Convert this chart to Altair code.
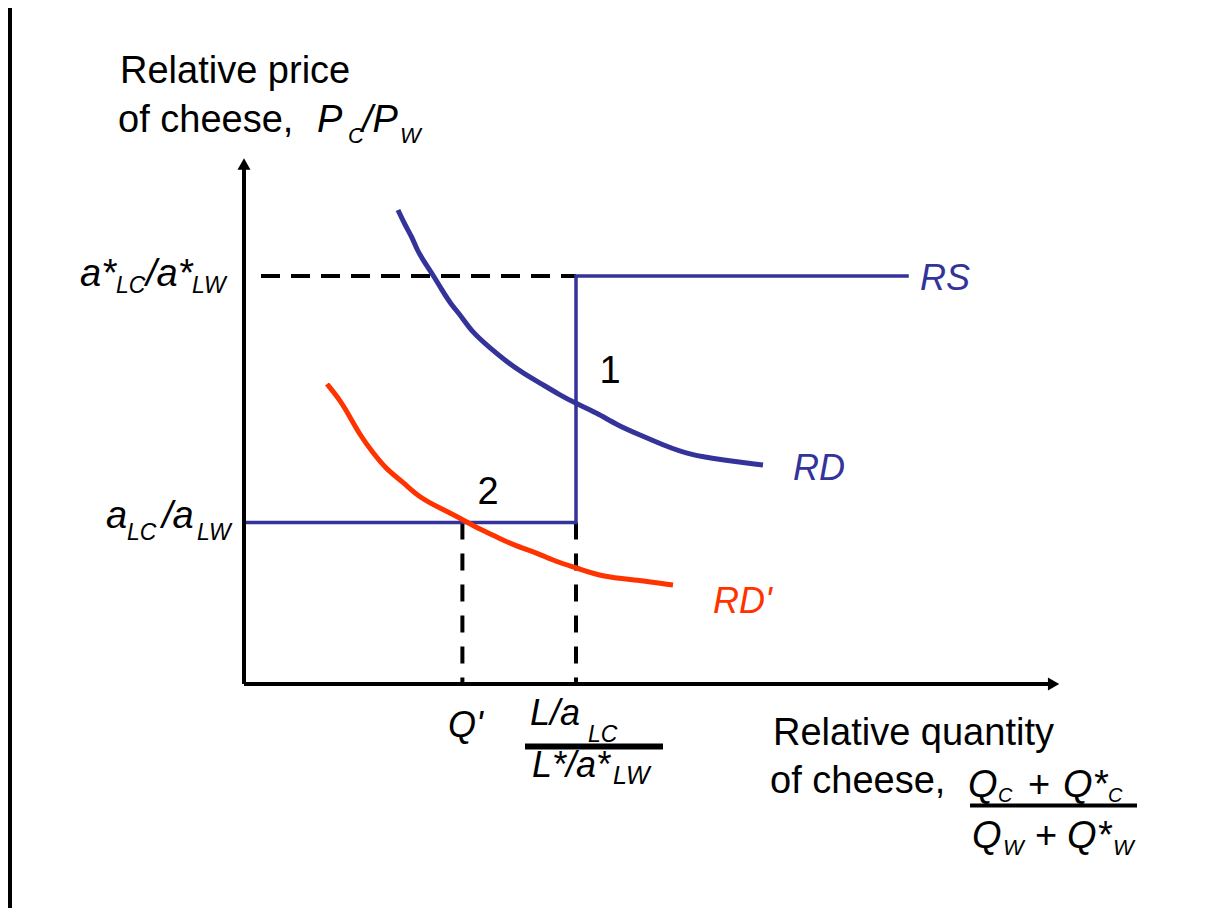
import altair as alt
import pandas as pd

BLUE = "#333399"
RED = "#FF3300"
FONT = "Liberation Sans"

# ---- data (data units: x = relative quantity, y = relative price) ----
rd_x = [1.925, 2.0125, 2.10, 2.1625, 2.2625, 2.3625, 2.475, 2.575, 2.725, 2.85, 3.075,
        3.2875, 3.4875, 3.70, 3.95, 4.1375, 4.4125, 4.6625, 4.95, 5.2375, 5.575, 5.9875, 6.4875]
rd_y = [5.925, 5.7375, 5.5875, 5.425, 5.2625, 5.1125, 4.925, 4.7625, 4.5875, 4.40, 4.20,
        4.025, 3.8875, 3.7625, 3.6125, 3.5125, 3.3875, 3.2375, 3.1125, 2.9875, 2.8625, 2.80, 2.7375]

rdp_x = [1.0375, 1.20, 1.325, 1.45, 1.6125, 1.7875, 1.9875, 2.20, 2.45, 2.70, 2.9125,
         3.1125, 3.3625, 3.6625, 3.9125, 4.1625, 4.4875, 4.9125, 5.3625]
rdp_y = [3.75, 3.55, 3.3375, 3.1125, 2.8875, 2.675, 2.525, 2.325, 2.20, 2.075, 1.95,
         1.8625, 1.7375, 1.6375, 1.525, 1.45, 1.3375, 1.30, 1.2375]

rs_x = [0.0, 4.15, 4.15, 8.31]
rs_y = [2.02, 2.02, 5.10, 5.10]

q_prime = 2.73
q_kink = 4.15
p_low = 2.02
p_high = 5.10
x_axis_end = 10.12
y_axis_end = 6.50

# labels: text, x, y, size, italic, colour, align
lab_text = ["Relative price", "of cheese,", "P", "C", "/P", "W",
            "a*", "LC", "/a*", "LW",
            "a", "LC", "/a", "LW",
            "Q'", "L/a", "LC", "L*/a*", "LW",
            "Relative quantity", "of cheese,", "Q", "C", "+", "Q*", "C",
            "Q", "W", "+", "Q*", "W",
            "1", "2", "RS", "RD", "RD'"]
lab_x = [-1.55, -1.575, 0.9125, 1.30, 1.475, 1.95,
         -2.05, -1.60, -1.225, -0.65,
         -1.725, -1.4625, -1.025, -0.5875,
         2.55, 3.575, 4.30, 3.60, 4.6125,
         6.6125, 6.575, 9.05, 9.425, 9.80, 10.2375, 10.80,
         9.10, 9.4875, 9.8875, 10.2875, 10.8625,
         4.575, 3.05, 8.45, 6.8625, 5.8625]
lab_y = [7.5125, 6.90, 6.90, 6.7625, 6.90, 6.7625,
         4.975, 4.8875, 4.975, 4.8875,
         1.95, 1.80, 1.95, 1.80,
         -0.6625, -0.5125, -0.725, -1.1625, -1.25,
         -0.7625, -1.3625, -1.4125, -1.475, -1.4125, -1.4125, -1.475,
         -2.05, -2.1375, -2.05, -2.05, -2.1375,
         3.7625, 2.25, 4.925, 2.55, 0.8875]
lab_size = [38, 38, 38, 22, 38, 22,
            38, 23, 38, 23,
            38, 23, 38, 23,
            36, 36, 23, 36, 25,
            38, 38, 38, 20, 38, 38, 20,
            38, 22, 38, 38, 22,
            38, 38, 36, 36, 36]
lab_italic = [0, 0, 1, 1, 1, 1,
              1, 1, 1, 1,
              1, 1, 1, 1,
              1, 1, 1, 1, 1,
              0, 0, 1, 1, 0, 1, 1,
              1, 1, 0, 1, 1,
              0, 0, 1, 1, 1]
lab_color = (["black"] * 31) + ["black", "black", BLUE, BLUE, RED]
lab_align = (["left"] * 31) + ["center", "center", "left", "left", "left"]

# fraction bars (x1, x2, y, width)
bar_x1 = [3.5125, 9.075]
bar_x2 = [5.2375, 11.1625]
bar_y = [-0.78, -1.51875]
bar_w = [6, 4]

# ---- scales ----
xs = alt.Scale(domain=[0, 10], range=[236, 1036], nice=False, zero=False)
ys = alt.Scale(domain=[0, 6], range=[676, 196], nice=False, zero=False)

one = pd.DataFrame({"k": [0]})

strip = alt.Chart(one).mark_rect(color="black").encode(
    x=alt.value(0), x2=alt.value(4), y=alt.value(0), y2=alt.value(900))

axes_df = pd.DataFrame({"x": [0.0, 0.0], "x2": [x_axis_end, 0.0],
                        "y": [0.0, 0.0], "y2": [0.0, y_axis_end]})
axes = alt.Chart(axes_df).mark_rule(color="black", strokeWidth=4).encode(
    x=alt.X("x:Q", scale=xs, axis=None), x2="x2:Q",
    y=alt.Y("y:Q", scale=ys, axis=None), y2="y2:Q")

arrows_df = pd.DataFrame({"x": [x_axis_end, 0.0], "y": [0.0, y_axis_end],
                          "shape": ["triangle-right", "triangle-up"]})
arrows = alt.Chart(arrows_df).mark_point(filled=True, color="black", size=170, opacity=1).encode(
    x=alt.X("x:Q", scale=xs, axis=None), y=alt.Y("y:Q", scale=ys, axis=None),
    shape=alt.Shape("shape:N", scale=None))

hdash_df = pd.DataFrame({"x": [0.2125], "x2": [q_kink], "y": [p_high]})
hdash = alt.Chart(hdash_df).mark_rule(color="black", strokeWidth=4, strokeDash=[19, 11]).encode(
    x=alt.X("x:Q", scale=xs, axis=None), x2="x2:Q", y=alt.Y("y:Q", scale=ys, axis=None))

vdash_df = pd.DataFrame({"x": [q_prime, q_kink], "y": [p_low, p_low], "y2": [0.0, 0.0]})
vdash = alt.Chart(vdash_df).mark_rule(color="black", strokeWidth=4, strokeDash=[17, 14]).encode(
    x=alt.X("x:Q", scale=xs, axis=None), y=alt.Y("y:Q", scale=ys, axis=None), y2="y2:Q")

rs_df = pd.DataFrame({"x": rs_x, "y": rs_y, "i": list(range(len(rs_x)))})
rs = alt.Chart(rs_df).mark_line(color=BLUE, strokeWidth=3.5).encode(
    x=alt.X("x:Q", scale=xs, axis=None), y=alt.Y("y:Q", scale=ys, axis=None),
    order="i:Q")

rd_df = pd.DataFrame({"x": rd_x, "y": rd_y})
rd = alt.Chart(rd_df).mark_line(color=BLUE, strokeWidth=5, interpolate="basis").encode(
    x=alt.X("x:Q", scale=xs, axis=None), y=alt.Y("y:Q", scale=ys, axis=None))

rdp_df = pd.DataFrame({"x": rdp_x, "y": rdp_y})
rdp = alt.Chart(rdp_df).mark_line(color=RED, strokeWidth=5, interpolate="basis").encode(
    x=alt.X("x:Q", scale=xs, axis=None), y=alt.Y("y:Q", scale=ys, axis=None))

bars_df = pd.DataFrame({"x": bar_x1, "x2": bar_x2, "y": bar_y, "w": bar_w})
bars = alt.Chart(bars_df).mark_rule(color="black").encode(
    x=alt.X("x:Q", scale=xs, axis=None), x2="x2:Q", y=alt.Y("y:Q", scale=ys, axis=None),
    strokeWidth=alt.StrokeWidth("w:Q", scale=None))

lab_df = pd.DataFrame({"label": lab_text, "x": lab_x, "y": lab_y, "fs": lab_size,
                       "ital": lab_italic, "col": lab_color, "anchor": lab_align})

text_layers = []
for it in (0, 1):
    for al in ("left", "center"):
        sub = lab_df[(lab_df["ital"] == it) & (lab_df["anchor"] == al)]
        if len(sub) == 0:
            continue
        text_layers.append(
            alt.Chart(sub).mark_text(align=al, baseline="alphabetic", font=FONT,
                                     fontStyle="italic" if it else "normal").encode(
                x=alt.X("x:Q", scale=xs, axis=None), y=alt.Y("y:Q", scale=ys, axis=None),
                text="label:N",
                size=alt.Size("fs:Q", scale=None),
                color=alt.Color("col:N", scale=None)))

chart = alt.layer(strip, hdash, vdash, rs, rdp, rd, axes, arrows, bars, *text_layers).properties(
    width=1196, height=900, padding=0,
    autosize=alt.AutoSizeParams(type="none"),
    background="white",
).configure_view(stroke=None)

chart.save("out.html", embed_options={"renderer": "svg", "actions": False})
